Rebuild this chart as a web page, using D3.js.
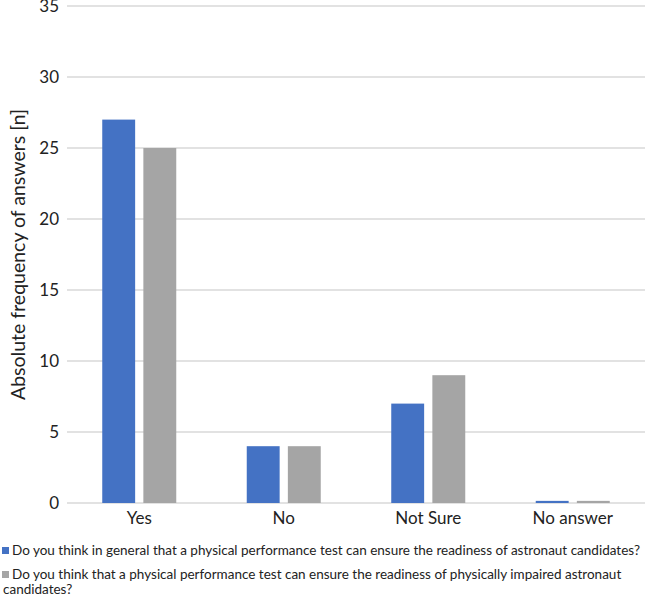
<!DOCTYPE html>
<html lang="en">
<head>
<meta charset="UTF-8">
<title>Chart</title>
<script src="https://d3js.org/d3.v7.min.js"></script>
<style>
  body { margin: 0; background: #fff; }
  text { font-family: Lato, "Open Sans", sans-serif; }
</style>
</head>
<body>
<div id="chart"></div>
<script>
// data
var categories = ["Yes", "No", "Not Sure", "No answer"];
var seriesNames = [
  "Do you think in general that a physical performance test can ensure the readiness of astronaut candidates?",
  "Do you think that a physical performance test can ensure the readiness of physically impaired astronaut candidates?"
];
var generalValues = [27, 4, 7, 0.15];
var impairedValues = [25, 4, 9, 0.15];
var yTicks = [0, 5, 10, 15, 20, 25, 30, 35];
var colors = ["#4472C4", "#A5A5A5"];

var W = 645, H = 598;
var margin = {top: 6, right: 0, bottom: 95, left: 67};
var width = W - margin.left - margin.right;
var height = H - margin.top - margin.bottom;

var svg = d3.select("#chart").append("svg")
  .attr("width", W).attr("height", H);

var g = svg.append("g")
  .attr("transform", `translate(${margin.left},${margin.top})`);

var x = d3.scaleBand().domain(categories).range([0, width]);
var y = d3.scaleLinear().domain([0, 35]).range([height, 0]);
// two bars of ~33px with an 8px gap, centred in each category
var inner = d3.scaleBand().domain([0, 1])
  .range([x.bandwidth()/2 - 37, x.bandwidth()/2 + 37]).paddingInner(0.2);

// gridlines
g.selectAll("line.grid").data(yTicks).enter().append("line")
  .attr("x1", 0).attr("x2", width)
  .attr("y1", d => y(d)).attr("y2", d => y(d))
  .attr("stroke", "#d9d9d9").attr("stroke-width", 1.3);

// y tick labels
g.selectAll("text.ytick").data(yTicks).enter().append("text")
  .attr("x", -8).attr("y", d => y(d)).attr("dy", "0.35em")
  .attr("text-anchor", "end").attr("font-size", 17).attr("fill", "#222")
  .text(d => d);

// bars
var rows = [];
categories.forEach(function(c, i) {
  rows.push({cat: c, s: 0, v: generalValues[i]});
  rows.push({cat: c, s: 1, v: impairedValues[i]});
});
g.selectAll("rect.bar").data(rows).enter().append("rect")
  .attr("x", d => x(d.cat) + inner(d.s))
  .attr("width", inner.bandwidth())
  .attr("y", d => y(d.v))
  .attr("height", d => y(0) - y(d.v))
  .attr("fill", d => colors[d.s]);

// category labels
g.selectAll("text.xcat").data(categories).enter().append("text")
  .attr("x", d => x(d) + x.bandwidth()/2)
  .attr("y", height + 21)
  .attr("text-anchor", "middle").attr("font-size", 17).attr("fill", "#222")
  .text(d => d);

// y axis title
svg.append("text")
  .attr("transform", `translate(25,${margin.top + height/2}) rotate(-90)`)
  .attr("text-anchor", "middle").attr("font-size", 19.5).attr("fill", "#222")
  .text("Absolute frequency of answers [n]");

// legend
var leg = svg.append("g").attr("font-size", 13.5).attr("fill", "#222");
leg.append("rect").attr("x", 2).attr("y", 547).attr("width", 7).attr("height", 7).attr("fill", colors[0]);
leg.append("text").attr("x", 12).attr("y", 555).text(seriesNames[0]);
leg.append("rect").attr("x", 2).attr("y", 571).attr("width", 7).attr("height", 7).attr("fill", colors[1]);
leg.append("text").attr("x", 12).attr("y", 579).text("Do you think that a physical performance test can ensure the readiness of physically impaired astronaut");
leg.append("text").attr("x", 3).attr("y", 594).text("candidates?");
</script>
</body>
</html>
